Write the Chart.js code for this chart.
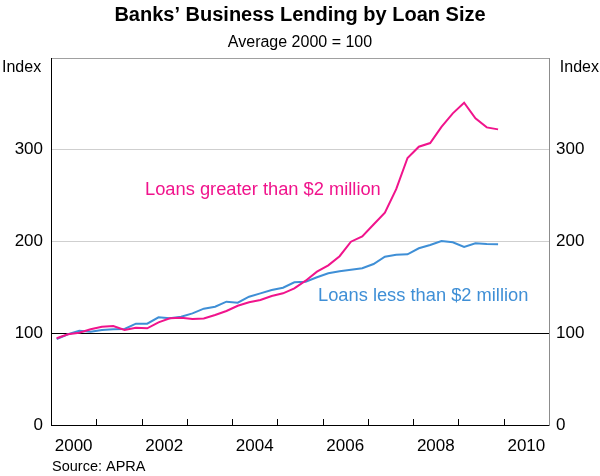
<!DOCTYPE html>
<html>
<head>
<meta charset="utf-8">
<script src="https://cdn.jsdelivr.net/npm/chart.js@4"></script>
<style>
  html, body { margin: 0; padding: 0; background: #fff; }
  #wrap { width: 600px; height: 476px; }
</style>
</head>
<body>
<div id="wrap"><canvas id="lendingChart" width="600" height="476"></canvas></div>
<script>
// Banks' business lending by loan size, quarterly, Average 2000 = 100

const firstYear = 2000;
const lastYear = 2009;
const yearLabels = [2000, 2002, 2004, 2006, 2008, 2010];
const yTicks = [0, 100, 200, 300, 400];

const loansOver2m = [
    94.5, 98.9, 100.6, 104.3, 107.1, 107.9, 103.5, 106.0, 105.4, 111.9,
    116.3, 117.0, 115.5, 116.0, 119.9, 124.3, 130.0, 133.7, 136.2, 140.6,
    143.5, 149.0, 157.3, 167.1, 174.0, 184.0, 199.8, 205.5, 218.5, 231.5,
    257.0, 291.0, 303.3, 307.3, 325.0, 339.7, 351.3, 334.2, 324.4, 322.2
];

const loansUnder2m = [
    93.7, 98.9, 102.8, 101.7, 103.5, 104.3, 104.6, 110.4, 110.4, 117.4,
    116.3, 118.0, 121.7, 126.8, 128.9, 134.4, 133.3, 139.8, 143.5, 147.1,
    149.6, 155.5, 156.2, 161.0, 165.3, 167.5, 169.1, 170.8, 175.5, 183.5,
    185.5, 186.0, 192.6, 196.2, 200.5, 199.1, 194.0, 198.0, 197.3, 197.0
];

// quarter categories, placed mid-quarter on a decimal-year axis
const quarters = [];
for (let y = firstYear; y <= lastYear; y++) {
    for (let q = 1; q <= 4; q++) quarters.push({ year: y, q: q });
}
const quarterPos = quarters.map(d => d.year + (d.q - 0.5) / 4);
const yearMarks = [2001, 2002, 2003, 2004, 2005, 2006, 2007, 2008, 2009, 2010];

const PINK = '#f0148c';
const BLUE = '#3f8fd6';
const FONT = '"Liberation Sans", Arial, Helvetica, sans-serif';

function toPoints(values) {
    return values.map((v, i) => ({ x: quarterPos[i], y: v }));
}

const textPlugin = {
    id: 'rbaText',
    afterDraw(chart) {
        const ctx = chart.ctx;
        const area = chart.chartArea;
        const xs = chart.scales.x;
        const ys = chart.scales.y;

        ctx.save();
        // tick marks at year boundaries, pointing up into the plot
        ctx.fillStyle = '#000';
        yearMarks.forEach(yr => {
            const px = Math.round(xs.getPixelForValue(yr));
            ctx.fillRect(px, area.bottom - 6, 1, 6);
        });

        ctx.textBaseline = 'middle';

        ctx.font = 'bold 20px ' + FONT;
        ctx.textAlign = 'center';
        ctx.fillText('Banks\u2019 Business Lending by Loan Size', 300, 15);

        ctx.font = '16px ' + FONT;
        ctx.fillText('Average 2000 = 100', 300, 43);

        ctx.textAlign = 'left';
        ctx.fillText('Index', 2, 68);
        ctx.textAlign = 'right';
        ctx.fillText('Index', 599, 68);

        ctx.font = '14.5px ' + FONT;
        ctx.textAlign = 'left';
        ctx.fillText('Source: APRA', 52, 467);

        ctx.font = '18.3px ' + FONT;
        ctx.fillStyle = PINK;
        ctx.fillText('Loans greater than $2 million', 145, ys.getPixelForValue(256));
        ctx.fillStyle = BLUE;
        ctx.fillText('Loans less than $2 million', 318, ys.getPixelForValue(141));
        ctx.restore();
    }
};

function gridColor(c) {
    const v = c.tick && c.tick.value;
    if (v === 100) return '#000000';
    if (v === 0) return 'rgba(0,0,0,0)';
    if (v === 400) return '#a0a0a0';
    return '#cfcfcf';
}

const ctx = document.getElementById('lendingChart').getContext('2d');
new Chart(ctx, {
    type: 'line',
    data: {
        datasets: [
            {
                label: 'Loans greater than $2 million',
                data: toPoints(loansOver2m),
                borderColor: PINK,
                borderWidth: 2,
                pointRadius: 0,
                tension: 0,
                fill: false
            },
            {
                label: 'Loans less than $2 million',
                data: toPoints(loansUnder2m),
                borderColor: BLUE,
                borderWidth: 2,
                pointRadius: 0,
                tension: 0,
                fill: false
            }
        ]
    },
    options: {
        responsive: false,
        animation: false,
        layout: { padding: { top: 58, left: 0, right: 0, bottom: 0 } },
        plugins: {
            legend: { display: false },
            tooltip: { enabled: false }
        },
        scales: {
            x: {
                type: 'linear',
                min: 2000,
                max: 2011,
                afterBuildTicks: (scale) => {
                    scale.ticks = yearLabels.map(y => ({ value: y + 0.5 }));
                },
                afterFit: (scale) => { scale.height = 51; },
                grid: { display: false, drawTicks: false },
                border: { display: true, color: '#000', width: 1 },
                ticks: {
                    autoSkip: false,
                    maxRotation: 0,
                    padding: 11,
                    color: '#000',
                    font: { family: FONT, size: 17 },
                    callback: (v) => String(Math.floor(v))
                }
            },
            y: {
                position: 'left',
                min: 0,
                max: 400,
                afterBuildTicks: (scale) => {
                    scale.ticks = yTicks.map(v => ({ value: v }));
                },
                afterFit: (scale) => { scale.width = 51; },
                grid: { color: gridColor, lineWidth: 1, drawTicks: false },
                border: { display: true, color: '#000', width: 1 },
                ticks: {
                    padding: 8,
                    color: '#000',
                    font: { family: FONT, size: 17 },
                    callback: (v) => (v === 400 ? '' : v)
                }
            },
            y2: {
                position: 'right',
                min: 0,
                max: 400,
                afterBuildTicks: (scale) => {
                    scale.ticks = yTicks.map(v => ({ value: v }));
                },
                afterFit: (scale) => { scale.width = 51; },
                grid: { display: false, drawTicks: false },
                border: { display: true, color: '#8c8c8c', width: 1 },
                ticks: {
                    padding: 7,
                    color: '#000',
                    font: { family: FONT, size: 17 },
                    callback: (v) => (v === 400 ? '' : v)
                }
            }
        }
    },
    plugins: [textPlugin]
});
</script>
</body>
</html>
